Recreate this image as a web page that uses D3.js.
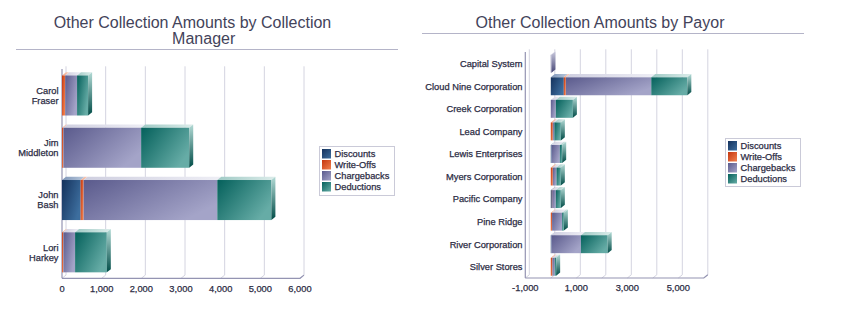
<!DOCTYPE html>
<html><head><meta charset="utf-8">
<script src="https://cdn.jsdelivr.net/npm/d3@7"></script>
<style>
html,body{margin:0;padding:0;background:#fff;}
svg{display:block;font-family:"Liberation Sans",Arial,sans-serif;}
</style></head>
<body><svg id="c" width="848" height="334"></svg>
<script>
// ---------- data ----------
const seriesNames = ["Discounts","Write-Offs","Chargebacks","Deductions"];

const managerCategories = ["Carol Fraser","Jim Middleton","John Bash","Lori Harkey"];
const managerDiscounts   = [0, 0, 470, 0];
const managerWriteOffs   = [80, 35, 75, 35];
const managerChargebacks = [300, 1960, 3370, 295];
const managerDeductions  = [278, 1212, 1364, 800];
const managerTicks = [0,1000,2000,3000,4000,5000,6000];
const managerTickLabels = ["0","1,000","2,000","3,000","4,000","5,000","6,000"];

const payorCategories = ["Capital System","Cloud Nine Corporation","Creek Corporation","Lead Company","Lewis Enterprises","Myers Corporation","Pacific Company","Pine Ridge","River Corporation","Silver Stores"];
const payorDiscounts   = [0, 510, 0, 0, 30, 0, 40, 0, 25, 0];
const payorWriteOffs   = [0, 80, 0, 80, 0, 80, 15, 50, 0, 65];
const payorChargebacks = [25, 3350, 197, 60, 324, 143, 142, 396, 1156, 92];
const payorDeductions  = [0, 1414, 669, 254, 92, 171, 197, 66, 1050, 53];
const payorGrid = [-1000,0,1000,2000,3000,4000,5000,6000];
const payorTicks = [-1000,1000,3000,5000];
const payorTickLabels = ["-1,000","1,000","3,000","5,000"];

// ---------- styles ----------
const faceCols = [["#14315c","#3d6e9e"],["#c4360f","#f0804e"],["#5a5a8c","#a4a4c8"],["#04605b","#66aca6"]];
const topCols  = [["#7d95b8","#b8c8dc"],["#eea68a","#f8d2c2"],["#cfcfe0","#eeeef5"],["#9fcac5","#dcecea"]];
const sideCols = [["#8aa4c6","#0d2748"],["#f4a888","#a62c08"],["#c8c8dc","#474777"],["#b2dad5","#004c47"]];
const textCol = "#2c2c44", titleCol = "#43435a", gridCol = "#d4d4e0", axisCol = "#9494b2";
const DX = 4, DY = -3.2;

const svg = d3.select("#c");
const defs = svg.append("defs");
function grad(id, c, x2, y2){
  const g = defs.append("linearGradient").attr("id",id)
    .attr("x1",0).attr("y1",0).attr("x2",x2).attr("y2",y2);
  g.append("stop").attr("offset","0%").attr("stop-color",c[0]);
  g.append("stop").attr("offset","100%").attr("stop-color",c[1]);
}
seriesNames.forEach((s,i)=>{
  grad("f"+i, faceCols[i], 1, 0.6);
  grad("t"+i, topCols[i], 1, 0);
  grad("s"+i, sideCols[i], 0, 1);
  grad("l"+i, faceCols[i], 1, 1);
});

function styleText(sel){
  return sel.attr("fill",textCol).attr("stroke",textCol).attr("stroke-width",0.25).attr("font-size","9.3px");
}

function drawChart(cfg){
  const g = svg.append("g");
  const x = d3.scaleLinear().domain(cfg.domain).range(cfg.xRange);
  const y = d3.scaleBand().domain(cfg.categories).range(cfg.yRange)
    .paddingInner(cfg.padIn).paddingOuter(cfg.padOut);
  const top = cfg.yRange[0], bot = cfg.yRange[1];

  // gridlines on back plane
  g.selectAll(".grid").data(cfg.grid).join("path")
    .attr("d", d => `M${x(d)+DX},${top+DY}V${bot+DY}L${x(d)},${bot}`)
    .attr("fill","none").attr("stroke",gridCol).attr("stroke-width",1);

  // axes
  g.append("line").attr("x1",x(cfg.domain[0])).attr("x2",x(cfg.domain[0]))
    .attr("y1",top-0.5).attr("y2",bot).attr("stroke",axisCol).attr("stroke-width",1.2);
  g.append("path").attr("d",`M${x(cfg.domain[0])},${bot}H${x(cfg.domain[1])}L${x(cfg.domain[1])+DX},${bot+DY}`)
    .attr("fill","none").attr("stroke",axisCol).attr("stroke-width",1.2);

  // bars
  const series = cfg.values;
  cfg.categories.forEach((c,ci)=>{
    let acc = 0;
    const y0 = y(c), h = y.bandwidth();
    let lastIdx = -1;
    series.forEach((arr,si)=>{ if(arr[ci]>0) lastIdx = si; });
    series.forEach((arr,si)=>{
      const v = arr[ci];
      if(!(v>0)) return;
      const xa = x(acc), xb = x(acc+v);
      acc += v;
      g.append("path").attr("d",`M${xa},${y0}L${xa+DX},${y0+DY}H${xb+DX}L${xb},${y0}Z`)
        .attr("fill",`url(#t${si})`);
      g.append("rect").attr("x",xa).attr("y",y0).attr("width",Math.max(0.6,xb-xa)).attr("height",h)
        .attr("fill",`url(#f${si})`);
      if(si===lastIdx){
        g.append("path").attr("d",`M${xb},${y0}L${xb+DX},${y0+DY}V${y0+h+DY}L${xb},${y0+h}Z`)
          .attr("fill",`url(#s${si})`);
      }
    });
  });

  // category labels
  cfg.categories.forEach(c=>{
    const cy = y(c) + y.bandwidth()/2;
    const lines = cfg.wrap ? c.split(" ") : [c];
    const t = styleText(g.append("text").attr("text-anchor","end").attr("x",cfg.labelX));
    lines.forEach((ln,i)=>{
      t.append("tspan").attr("x",cfg.labelX)
        .attr("y", cy + (i - (lines.length-1)/2)*10 + 3.3).text(ln);
    });
  });

  // tick labels
  styleText(g.selectAll(".tl").data(cfg.ticks).join("text")
    .attr("x",d=>x(d)).attr("y",cfg.tickY).attr("text-anchor","middle"))
    .text((d,i)=>cfg.tickLabels[i]);

  // title
  const tt = g.append("text").attr("fill",titleCol).attr("font-size","16px").attr("text-anchor","middle");
  cfg.title.forEach(tl=>{
    tt.append("tspan").attr("x",tl[1]).attr("y",tl[2]).text(tl[0]);
  });
  g.append("line").attr("x1",cfg.rule[0]).attr("x2",cfg.rule[1]).attr("y1",cfg.rule[2]).attr("y2",cfg.rule[2])
    .attr("stroke","#b4b4c8").attr("stroke-width",1);

  // legend
  const L = cfg.legend;
  g.append("rect").attr("x",L.x+0.5).attr("y",L.y+0.5).attr("width",L.w).attr("height",L.h)
    .attr("fill","#fff").attr("stroke","#cacad8").attr("stroke-width",1);
  seriesNames.forEach((s,i)=>{
    const ly = L.y + 3 + i*11;
    g.append("rect").attr("x",L.x+3).attr("y",ly).attr("width",9).attr("height",9.5)
      .attr("fill",`url(#l${i})`);
    styleText(g.append("text").attr("x",L.x+15.5).attr("y",ly+8)).text(s);
  });
}

drawChart({
  categories: managerCategories,
  values: [managerDiscounts, managerWriteOffs, managerChargebacks, managerDeductions],
  domain: [0,6000], xRange: [62,300], yRange: [69.5,278.3],
  padIn: 0.234, padOut: 0.114, grid: managerTicks, ticks: managerTicks, tickLabels: managerTickLabels,
  wrap: true, labelX: 58.5, tickY: 292,
  title: [["Other Collection Amounts by Collection",192.5,28.3],["Manager",203.7,43.7]],
  rule: [16,398,49.5],
  legend: {x:319, y:146, w:75, h:49}
});

drawChart({
  categories: payorCategories,
  values: [payorDiscounts, payorWriteOffs, payorChargebacks, payorDeductions],
  domain: [-1000,6000], xRange: [525.3,703.8], yRange: [52.5,278],
  padIn: 0.205, padOut: 0.1, grid: payorGrid, ticks: payorTicks, tickLabels: payorTickLabels,
  wrap: false, labelX: 522.5, tickY: 291,
  title: [["Other Collection Amounts by Payor",600,28.3]],
  rule: [422,804,33.5],
  legend: {x:725, y:138, w:75, h:48}
});
</script></body></html>
